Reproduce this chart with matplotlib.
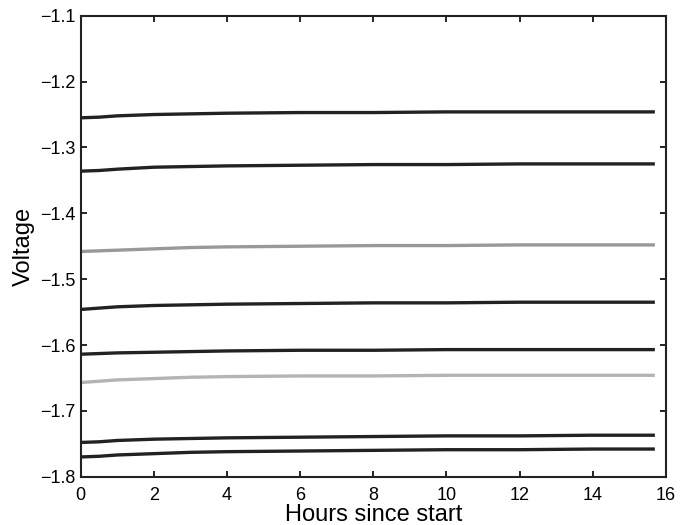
import matplotlib
matplotlib.use("Agg")
import matplotlib.pyplot as plt

plt.rcParams['font.family'] = ['Liberation Sans', 'DejaVu Sans']

# tiempos de muestreo (horas)
horas = [0, 0.5, 1, 2, 3, 4, 6, 8, 10, 12, 14, 15.7]

# tensiones
v1 = [-1.255, -1.254, -1.252, -1.250, -1.249, -1.248, -1.247, -1.247, -1.246, -1.246, -1.246, -1.246]
v2 = [-1.336, -1.335, -1.333, -1.330, -1.329, -1.328, -1.327, -1.326, -1.326, -1.325, -1.325, -1.325]
v3 = [-1.458, -1.457, -1.456, -1.454, -1.452, -1.451, -1.450, -1.449, -1.449, -1.448, -1.448, -1.448]
v4 = [-1.546, -1.544, -1.542, -1.540, -1.539, -1.538, -1.537, -1.536, -1.536, -1.535, -1.535, -1.535]
v5 = [-1.614, -1.613, -1.612, -1.611, -1.610, -1.609, -1.608, -1.608, -1.607, -1.607, -1.607, -1.607]
v6 = [-1.657, -1.655, -1.653, -1.651, -1.649, -1.648, -1.647, -1.647, -1.646, -1.646, -1.646, -1.646]
v7 = [-1.748, -1.747, -1.745, -1.743, -1.742, -1.741, -1.740, -1.739, -1.738, -1.738, -1.737, -1.737]
v8 = [-1.770, -1.769, -1.767, -1.765, -1.763, -1.762, -1.761, -1.760, -1.759, -1.759, -1.758, -1.758]

series = [v1, v2, v3, v4, v5, v6, v7, v8]
colores = ['#222222', '#222222', '#999999', '#222222', '#222222', '#b4b4b4', '#222222', '#222222']

fig = plt.figure(figsize=(6.9, 5.25), dpi=100)
ax = fig.add_axes([0.117, 0.092, 0.848, 0.878])

for v, c in zip(series, colores):
    ax.plot(horas, v, color=c, linewidth=2.4, solid_capstyle='butt')

ax.set_xlim(0, 16)
ax.set_ylim(-1.8, -1.1)
ax.set_xticks(range(0, 17, 2))
ax.set_yticks([-1.8, -1.7, -1.6, -1.5, -1.4, -1.3, -1.2, -1.1])
ax.tick_params(direction='in', top=True, right=True, length=4, width=1.2, labelsize=13)
ax.tick_params(axis='x', pad=7.5)
for s in ax.spines.values():
    s.set_linewidth(1.5)
    s.set_color('#222222')

ax.set_xlabel('Hours since start', fontsize=17, labelpad=0)
ax.set_ylabel('Voltage', fontsize=17, labelpad=4)

fig.savefig('out.png', dpi=100)
